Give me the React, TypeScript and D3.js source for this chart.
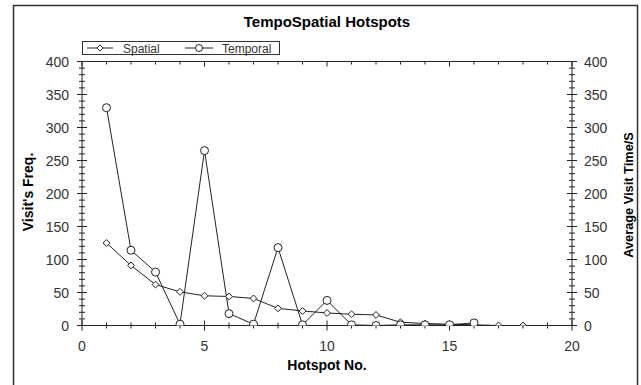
import React, { useEffect, useRef } from 'react';
import * as d3 from 'd3';

const hotspots = [1, 2, 3, 4, 5, 6, 7, 8, 9, 10, 11, 12, 13, 14, 15, 16, 17, 18];
const spatial = [125, 91, 62, 51, 45, 44, 41, 26, 22, 19, 17, 16, 5, 3, 2, 1, 0, 0];
const temporal = [330, 114, 81, 2, 265, 18, 2, 118, 1, 38, 1, 0, 1, 1, 1, 4];
const yTicks = [0, 50, 100, 150, 200, 250, 300, 350, 400];
const xTicks = [0, 5, 10, 15, 20];

const App = () => {
  const svgRef = useRef<SVGSVGElement>(null);

  useEffect(() => {
    const svg = d3.select(svgRef.current);
    svg.selectAll('*').remove();
    const font = 'Liberation Sans, Arial, sans-serif';

    const x = d3.scaleLinear().domain([0, 20]).range([82, 572]);
    const y = d3.scaleLinear().domain([0, 400]).range([325.5, 61.5]);
    const [x0, x1] = x.range();
    const [yb, yt] = y.range();

    svg.append('defs').append('clipPath').attr('id', 'plotclip')
      .append('rect').attr('x', x0).attr('y', yt).attr('width', x1 - x0).attr('height', yb - yt);

    // outer frame
    svg.append('rect').attr('x', 13.5).attr('y', 5.5).attr('width', 624).attr('height', 400)
      .attr('fill', 'white').attr('stroke', '#333').attr('stroke-width', 1.5);

    // title
    svg.append('text').attr('x', 327).attr('y', 27).attr('text-anchor', 'middle')
      .attr('font-family', font).attr('font-weight', 'bold').attr('font-size', 15)
      .text('TempoSpatial Hotspots');

    const axis = svg.append('g').attr('stroke', '#222').attr('stroke-width', 1);
    axis.append('line').attr('x1', x0).attr('x2', x1).attr('y1', yb).attr('y2', yb);
    axis.append('line').attr('x1', x0).attr('x2', x1).attr('y1', yt).attr('y2', yt);
    axis.append('line').attr('x1', x0).attr('x2', x0).attr('y1', yb).attr('y2', yt);
    axis.append('line').attr('x1', x1).attr('x2', x1).attr('y1', yb).attr('y2', yt);

    // y minor/major ticks on both sides
    const yMinor = d3.range(0, 401, 10);
    [x0, x1].forEach((ax) => {
      axis.selectAll(null).data(yMinor).join('line')
        .attr('x1', (d) => ax - (d % 50 === 0 ? 5 : 3))
        .attr('x2', (d) => ax + (d % 50 === 0 ? 5 : 3))
        .attr('y1', (d) => y(d)).attr('y2', (d) => y(d));
    });
    // x ticks
    const xMinor = d3.range(0, 21, 1);
    axis.selectAll(null).data(xMinor).join('line')
      .attr('x1', (d) => x(d)).attr('x2', (d) => x(d))
      .attr('y1', (d) => yb - (d % 5 === 0 ? 5 : 3))
      .attr('y2', (d) => yb + (d % 5 === 0 ? 5 : 3));
    axis.selectAll(null).data(xMinor).join('line')
      .attr('x1', (d) => x(d)).attr('x2', (d) => x(d))
      .attr('y1', yt).attr('y2', (d) => yt + (d % 5 === 0 ? 5 : 3));

    const labelColor = '#333';
    svg.append('g').selectAll('text').data(yTicks).join('text')
      .attr('x', 69).attr('y', (d) => y(d) + 5).attr('text-anchor', 'end')
      .attr('font-family', font).attr('font-size', 14).attr('fill', labelColor).text((d) => d);
    svg.append('g').selectAll('text').data(yTicks).join('text')
      .attr('x', 584).attr('y', (d) => y(d) + 5).attr('text-anchor', 'start')
      .attr('font-family', font).attr('font-size', 14).attr('fill', labelColor).text((d) => d);
    svg.append('g').selectAll('text').data(xTicks).join('text')
      .attr('x', (d) => x(d)).attr('y', 351).attr('text-anchor', 'middle')
      .attr('font-family', font).attr('font-size', 14).attr('fill', labelColor).text((d) => d);

    // axis titles
    svg.append('text').attr('x', 327).attr('y', 370).attr('text-anchor', 'middle')
      .attr('font-family', font).attr('font-weight', 'bold').attr('font-size', 14).text('Hotspot No.');
    svg.append('text').attr('transform', 'translate(33,192) rotate(-90)').attr('text-anchor', 'middle')
      .attr('font-family', font).attr('font-weight', 'bold').attr('font-size', 14).text("Visit's Freq.");
    svg.append('text').attr('transform', 'translate(633,195) rotate(-90)').attr('text-anchor', 'middle')
      .attr('font-family', font).attr('font-weight', 'bold').attr('font-size', 12.8).text('Average Visit Time/S');

    const line = d3.line<number>().x((d, i) => x(hotspots[i])).y((d) => y(d));
    const diamond = d3.symbol().type(d3.symbolDiamond2).size(30);

    const plot = svg.append('g').attr('clip-path', 'url(#plotclip)');
    plot.append('path').attr('d', line(spatial)).attr('fill', 'none').attr('stroke', '#222').attr('stroke-width', 1);
    plot.append('path').attr('d', line(temporal)).attr('fill', 'none').attr('stroke', '#222').attr('stroke-width', 1);

    plot.append('g').selectAll('path').data(spatial).join('path')
      .attr('transform', (d, i) => `translate(${x(hotspots[i])},${y(d)})`)
      .attr('d', diamond()).attr('fill', 'white').attr('stroke', '#222');
    plot.append('g').selectAll('circle').data(temporal).join('circle')
      .attr('cx', (d, i) => x(hotspots[i])).attr('cy', (d) => y(d)).attr('r', 4)
      .attr('fill', 'white').attr('stroke', '#222');

    // legend
    const lg = svg.append('g');
    lg.append('rect').attr('x', 82.5).attr('y', 41.5).attr('width', 197).attr('height', 13)
      .attr('fill', 'white').attr('stroke', '#333');
    lg.append('line').attr('x1', 87).attr('x2', 113).attr('y1', 48).attr('y2', 48).attr('stroke', '#222');
    lg.append('path').attr('transform', 'translate(100,48)').attr('d', d3.symbol().type(d3.symbolDiamond2).size(24)())
      .attr('fill', 'white').attr('stroke', '#222');
    lg.append('text').attr('x', 123).attr('y', 52.5).attr('font-family', font).attr('font-size', 12)
      .attr('fill', labelColor).text('Spatial');
    lg.append('line').attr('x1', 185).attr('x2', 213).attr('y1', 48).attr('y2', 48).attr('stroke', '#222');
    lg.append('circle').attr('cx', 199).attr('cy', 48).attr('r', 3.5).attr('fill', 'white').attr('stroke', '#222');
    lg.append('text').attr('x', 222).attr('y', 52.5).attr('font-family', font).attr('font-size', 12)
      .attr('fill', labelColor).text('Temporal');
  }, []);

  return (
    <svg ref={svgRef} width={641} height={385}
      style={{ position: 'absolute', left: 0, top: 0, background: 'white' }} />
  );
};

export default App;
